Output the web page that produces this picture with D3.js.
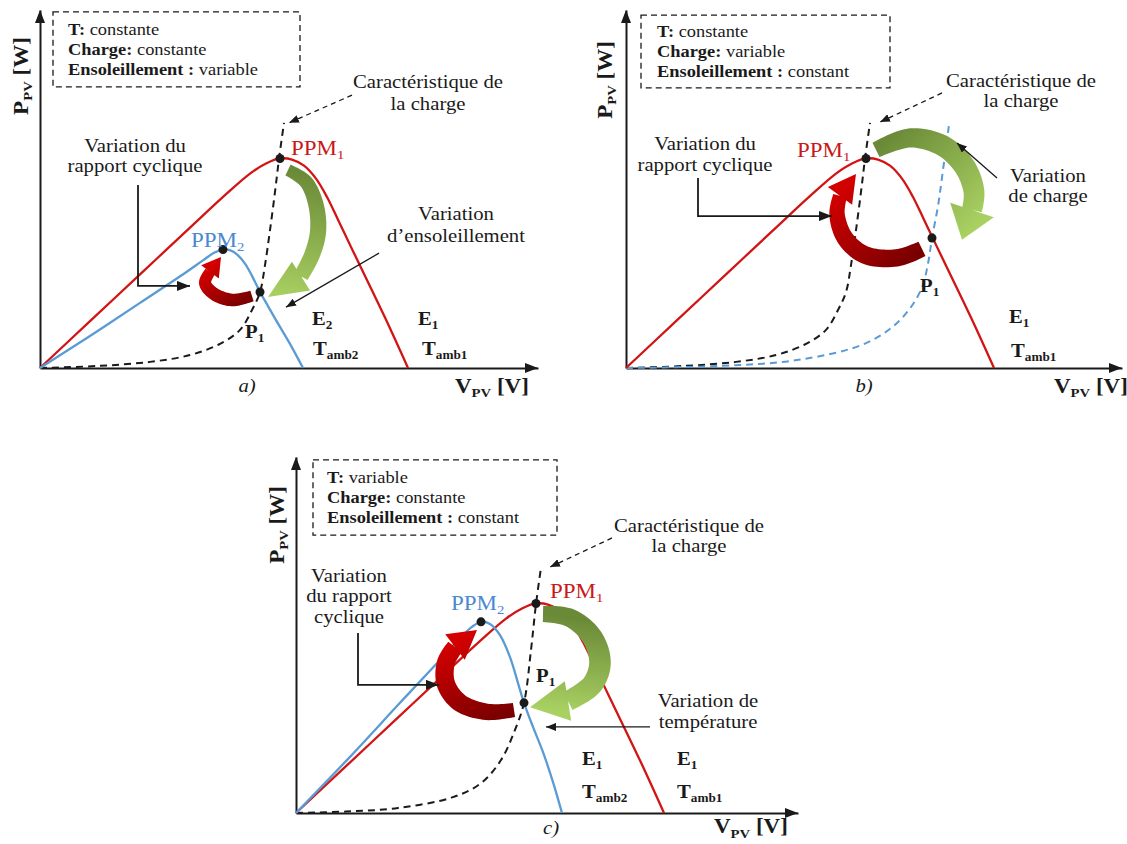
<!DOCTYPE html>
<html>
<head>
<meta charset="utf-8">
<script src="https://cdn.jsdelivr.net/npm/d3@7"></script>
<style>
  body { margin: 0; background: #fff; }
  svg { display: block; }
  svg text { font-family: "Liberation Serif", "Times New Roman", "DejaVu Serif", serif; }
</style>
</head>
<body>
<svg id="chart" width="1127" height="844"></svg>
<script>
// P-V characteristics, values as [V, P]
const pvCurveE1T1 = [[0,0],[5,13],[10,26],[15,39],[18.5,48],[21,54],[22.6,56.8],[24,58.2],[25.2,57.9],[26.4,56.2],[27.6,52.6],[28.7,47.5],[29.8,41.2],[31,34.2],[32.2,27.3],[34.5,14],[36.8,0]];
const pvCurveE2 = [[0,0],[5,8.9],[10,18.1],[14.5,26.4],[16.3,29.9],[17.4,32],[18.3,32.9],[19.1,32.6],[19.8,31.3],[20.5,29],[21.2,25.6],[22,21.1],[22.8,17.2],[23.6,13.3],[25,6.7],[26.3,0]];
const pvCurveT2 = [[0,0],[5.4,15.6],[10.4,30.6],[14.4,42.5],[16.4,48.6],[17.6,51.7],[18.5,53.1],[19.4,52.5],[20.4,49.4],[21.4,43.3],[22.2,36.1],[22.8,30.6],[23.7,23.9],[24.7,16.9],[25.7,8.6],[26.6,0]];

// load characteristics
const loadCurve = [[0,0],[6,0.6],[11,1.7],[15,3.6],[18,6.7],[20,10.6],[21.2,16.1],[22,21.1],[22.5,28.6],[23,38.3],[23.5,48.9],[23.9,58.1],[24.4,68.1]];
const loadCurveChanged = [[0,0],[9.4,0.6],[17.1,2.2],[24,6.9],[27.4,13.3],[29.5,21.7],[30.2,29],[30.6,36.1],[31.2,45],[31.7,55],[32.3,67.5]];
const loadCurveC = [[0,0],[5,0.4],[10.2,1.4],[15.7,4.4],[18.5,8.3],[20.5,14.7],[21.9,23.1],[22.8,30.6],[23.5,45.3],[24,58.1],[24.5,68.1]];

// operating points
const pointsA = [[24, 58.2], [18.3, 32.9], [22, 21.1]];
const pointsB = [[24, 58.2], [30.6, 36.1]];
const pointsC = [[24, 58.2], [18.5, 53.1], [22.8, 30.6]];

// curved arrows (centre line, last point = tip)
const greenArrowA = [[24.8,55],[26.6,51.7],[27.6,45.3],[27.8,37.8],[27.2,31.4],[26.1,25.5],[22.8,19.7]];
const redArrowA = [[21.2,20],[19.2,18.9],[17.4,20.6],[16.5,23.6],[17,26.7],[18.1,30.8]];
const greenArrowB = [[25,60.6],[28.4,63.9],[31.7,61.7],[33.9,55.8],[34.8,48.9],[34.6,43.9],[33.6,35.6]];
const redArrowB = [[29.6,33.1],[27.1,30.6],[23.9,31.4],[21.9,36.1],[21.1,42.8],[21.4,47.8],[23,53.9]];
const greenArrowC = [[24.7,55.3],[27.4,54.2],[29.6,48.9],[30.4,41.7],[29.6,35.6],[27.2,31.1],[23.4,29.4]];
const redArrowC = [[21.8,28.6],[19.1,28.1],[16.4,30.6],[15,35.8],[15,41.9],[15.9,46.1],[18.1,50.8]];

// condition boxes
const conditionsA = [["T:", " constante"], ["Charge:", " constante"], ["Ensoleillement :", " variable"]];
const conditionsB = [["T:", " constante"], ["Charge:", " variable"], ["Ensoleillement :", " constant"]];
const conditionsC = [["T:", " variable"], ["Charge:", " constante"], ["Ensoleillement :", " constant"]];

const panels = [
  { key: "a", origin: [40, 368], xLen: 498, yLen: 358 },
  { key: "b", origin: [626, 368], xLen: 496, yLen: 358 },
  { key: "c", origin: [296, 813], xLen: 502, yLen: 356 }
];

const SX = 1.15;
const RED = "#d21414";
const BLUE = "#5b9bd5";
const INK = "#1a1a1a";

const svg = d3.select("#chart");
const defs = svg.append("defs");

function marker(id, len, half) {
  defs.append("marker")
    .attr("id", id)
    .attr("markerUnits", "userSpaceOnUse")
    .attr("markerWidth", len)
    .attr("markerHeight", half * 2)
    .attr("refX", len)
    .attr("refY", half)
    .attr("orient", "auto")
    .append("path")
    .attr("d", `M0,0L${len},${half}L0,${half * 2}Z`)
    .attr("fill", INK);
}
marker("headSmall", 10, 4);
marker("headBig", 13, 5);

defs.append("filter").attr("id", "soft")
  .append("feGaussianBlur").attr("stdDeviation", 0.6);

function txt(g, x, y, segs, o = {}) {
  const size = o.size || 18;
  const t = g.append("text")
    .attr("transform", `translate(${x},${y})${o.rotate ? ` rotate(${o.rotate})` : ""} scale(${SX},1)`)
    .attr("font-size", size)
    .attr("font-weight", o.bold ? 700 : 400)
    .attr("font-style", o.italic ? "italic" : null)
    .attr("fill", o.color || INK)
    .attr("text-anchor", o.anchor || "start");
  let shift = 0;
  segs.forEach((s) => {
    const [str, kind = ""] = typeof s === "string" ? [s] : s;
    const isSub = kind.includes("s");
    const ts = t.append("tspan").text(str);
    const target = isSub ? size * 0.22 : 0;
    if (target - shift) ts.attr("dy", target - shift);
    shift = target;
    if (isSub) ts.attr("font-size", size * 0.64);
    if (kind.includes("b")) ts.attr("font-weight", 700);
    if (kind.includes("r")) ts.attr("font-weight", 400);
  });
  return t;
}

function setupPanel(p) {
  const g = svg.append("g").attr("transform", `translate(${p.origin[0]},${p.origin[1]})`);
  const x = d3.scaleLinear().domain([0, p.xLen / 10]).range([0, p.xLen]);
  const y = d3.scaleLinear().domain([0, p.yLen / 3.6]).range([0, -p.yLen]);

  g.append("g")
    .call(d3.axisBottom(x).tickValues([]).tickSizeOuter(0))
    .call((a) => a.select(".domain").attr("stroke", INK).attr("stroke-width", 2));
  g.append("g")
    .call(d3.axisLeft(y).tickValues([]).tickSizeOuter(0))
    .call((a) => a.select(".domain").attr("stroke", INK).attr("stroke-width", 2));

  const xe = x.range()[1], ye = y.range()[1];
  g.append("path").attr("d", `M${xe},0l-13,-5v10Z`).attr("fill", INK);
  g.append("path").attr("d", `M0,${ye}l-5,13h10Z`).attr("fill", INK);
  return { g, x, y, key: p.key };
}

function frame(ctx, o) {
  const { g, x, y } = ctx;
  g.append("rect")
    .attr("x", x(o.box[0])).attr("y", y(o.box[3]))
    .attr("width", x(o.box[1]) - x(o.box[0]))
    .attr("height", y(o.box[2]) - y(o.box[3]))
    .attr("fill", "none").attr("stroke", INK)
    .attr("stroke-width", 1.3).attr("stroke-dasharray", "6,4");
  o.cond.forEach((c, i) => {
    txt(g, x(o.condAt[0]), y(o.condAt[1] - i * 5.6), [[c[0], "b"], [c[1], "r"]], { size: 16 });
  });
  txt(g, x(o.yLabel[0]), y(o.yLabel[1]), [["P", "b"], ["PV", "bs"], [" [W]", "b"]], { rotate: -90, anchor: "middle", size: 20 });
  txt(g, x(o.xLabel[0]), y(o.xLabel[1]), [["V", "b"], ["PV", "bs"], [" [V]", "b"]], { size: 20 });
  txt(g, x(o.letter[0]), y(o.letter[1]), [ctx.key + ")"], { italic: true, anchor: "middle", size: 18 });
}

const lineGen = (ctx) => d3.line().x((d) => ctx.x(d[0])).y((d) => ctx.y(d[1])).curve(d3.curveCatmullRom.alpha(0.5));

function curve(ctx, data, color, dash) {
  ctx.g.append("path")
    .datum(data)
    .attr("d", lineGen(ctx))
    .attr("fill", "none")
    .attr("stroke", color)
    .attr("stroke-width", dash ? 2 : 2.3)
    .attr("stroke-dasharray", dash || null);
}

function dots(ctx, pts) {
  ctx.g.selectAll(null).data(pts).enter().append("circle")
    .attr("cx", (d) => ctx.x(d[0])).attr("cy", (d) => ctx.y(d[1]))
    .attr("r", 4.5).attr("fill", INK);
}

function thinArrow(ctx, pts, o = {}) {
  ctx.g.append("path")
    .attr("d", d3.line()(pts.map((d) => [ctx.x(d[0]), ctx.y(d[1])])))
    .attr("fill", "none")
    .attr("stroke", INK)
    .attr("stroke-width", o.width || 1.3)
    .attr("stroke-dasharray", o.dash || null)
    .attr("marker-end", `url(#${o.head || "headSmall"})`);
}

let gradId = 0;
function fatArrow(ctx, data, w0, w1, headW, c0, c1) {
  const pts = data.map((d) => [ctx.x(d[0]), ctx.y(d[1])]);
  const body = pts.slice(0, -1);
  const tip = pts[pts.length - 1];
  const tmp = ctx.g.append("path")
    .attr("d", d3.line().curve(d3.curveCatmullRom.alpha(0.5))(body))
    .attr("fill", "none");
  const node = tmp.node();
  const L = node.getTotalLength();
  const n = 48, left = [], right = [];
  for (let i = 0; i <= n; i++) {
    const s = (L * i) / n;
    const p = node.getPointAtLength(s);
    const q = node.getPointAtLength(Math.min(L, s + 0.8));
    const r = node.getPointAtLength(Math.max(0, s - 0.8));
    let dx = q.x - r.x, dy = q.y - r.y;
    const len = Math.hypot(dx, dy) || 1;
    dx /= len; dy /= len;
    // slightly fuller in the middle of the sweep
    const w = (w0 + ((w1 - w0) * i) / n) / 2 * (1 + 0.18 * Math.sin(Math.PI * i / n));
    left.push([p.x - dy * w, p.y + dx * w]);
    right.push([p.x + dy * w, p.y - dx * w]);
  }
  tmp.remove();

  const end = body[body.length - 1];
  let hx = tip[0] - end[0], hy = tip[1] - end[1];
  const hl = Math.hypot(hx, hy);
  hx /= hl; hy /= hl;
  const h1 = [end[0] - hy * headW / 2, end[1] + hx * headW / 2];
  const h2 = [end[0] + hy * headW / 2, end[1] - hx * headW / 2];

  const id = `grad${gradId++}`;
  const grad = defs.append("linearGradient").attr("id", id)
    .attr("gradientUnits", "userSpaceOnUse")
    .attr("x1", pts[0][0]).attr("y1", pts[0][1])
    .attr("x2", tip[0]).attr("y2", tip[1]);
  grad.append("stop").attr("offset", "0%").attr("stop-color", c0);
  grad.append("stop").attr("offset", "100%").attr("stop-color", c1);

  const poly = left.concat(right.reverse());
  const d = "M" + poly.map((p) => p.join(",")).join("L") + "Z" +
    `M${h1.join(",")}L${tip.join(",")}L${h2.join(",")}Z`;
  ctx.g.append("path")
    .attr("d", d)
    .attr("fill", `url(#${id})`)
    .attr("filter", "url(#soft)");
}

const GREEN0 = "#6b8a38", GREEN1 = "#a9d162";
const RED0 = "#7a0000", RED1 = "#d40000";

// ---------- panel a ----------
const A = setupPanel(panels[0]);
frame(A, { box: [1.3, 26, 78.1, 98.9], cond: conditionsA, condAt: [2.8, 92.5], yLabel: [-1.2, 81.1], xLabel: [41.5, -6.9], letter: [20.7, -6.7] });
curve(A, loadCurve, INK, "7,5");
curve(A, pvCurveE1T1, RED);
curve(A, pvCurveE2, BLUE);
fatArrow(A, greenArrowA, 12, 15, 34, GREEN0, GREEN1);
fatArrow(A, redArrowA, 11, 11, 22, RED0, RED1);
dots(A, pointsA);
txt(A.g, A.x(25.1), A.y(59.2), ["PPM", ["1", "s"]], { size: 20, color: "#c81818" });
txt(A.g, A.x(15.1), A.y(33.6), ["PPM", ["2", "s"]], { size: 20, color: "#4a88d2" });
txt(A.g, A.x(20.5), A.y(8.3), ["P", ["1", "s"]], { size: 18, bold: true });
txt(A.g, A.x(27.2), A.y(11.9), ["E", ["2", "s"]], { size: 18, bold: true });
txt(A.g, A.x(27.3), A.y(3.6), ["T", ["amb2", "s"]], { size: 18, bold: true });
txt(A.g, A.x(37.8), A.y(11.9), ["E", ["1", "s"]], { size: 18, bold: true });
txt(A.g, A.x(38.2), A.y(3.6), ["T", ["amb1", "s"]], { size: 18, bold: true });
txt(A.g, A.x(38.8), A.y(77.8), ["Caractéristique de"], { anchor: "middle" });
txt(A.g, A.x(38.8), A.y(71.7), ["la charge"], { anchor: "middle" });
thinArrow(A, [[31.2, 75.8], [24.9, 68.1]], { dash: "5,4" });
txt(A.g, A.x(9.5), A.y(60), ["Variation du"], { anchor: "middle" });
txt(A.g, A.x(9.5), A.y(54.4), ["rapport cyclique"], { anchor: "middle" });
thinArrow(A, [[9.8, 50.8], [9.8, 22.8], [15, 22.8]], { width: 1.8, head: "headBig" });
txt(A.g, A.x(41.6), A.y(41.1), ["Variation"], { anchor: "middle" });
txt(A.g, A.x(41.6), A.y(35), ["d’ensoleillement"], { anchor: "middle" });
thinArrow(A, [[33.9, 31.9], [24.6, 16.9]]);

// ---------- panel b ----------
const B = setupPanel(panels[1]);
frame(B, { box: [1.5, 26.4, 77.8, 98], cond: conditionsB, condAt: [3.1, 91.9], yLabel: [-1.4, 80], xLabel: [42.8, -6.9], letter: [23.8, -6.7] });
curve(B, loadCurve, INK, "7,5");
curve(B, loadCurveChanged, BLUE, "7,5");
curve(B, pvCurveE1T1, RED);
fatArrow(B, greenArrowB, 16, 20, 46, GREEN0, GREEN1);
fatArrow(B, redArrowB, 16, 14, 30, RED0, RED1);
dots(B, pointsB);
txt(B.g, B.x(17.1), B.y(58.6), ["PPM", ["1", "s"]], { size: 20, color: "#c81818" });
txt(B.g, B.x(29.4), B.y(21.1), ["P", ["1", "s"]], { size: 18, bold: true });
txt(B.g, B.x(38.3), B.y(12.5), ["E", ["1", "s"]], { size: 18, bold: true });
txt(B.g, B.x(38.5), B.y(3.1), ["T", ["amb1", "s"]], { size: 18, bold: true });
txt(B.g, B.x(39.5), B.y(78.1), ["Caractéristique de"], { anchor: "middle" });
txt(B.g, B.x(39.5), B.y(72.5), ["la charge"], { anchor: "middle" });
thinArrow(B, [[31.6, 76.4], [25.4, 68.3]], { dash: "5,4" });
txt(B.g, B.x(7.9), B.y(60.6), ["Variation du"], { anchor: "middle" });
txt(B.g, B.x(7.9), B.y(54.7), ["rapport cyclique"], { anchor: "middle" });
thinArrow(B, [[7.2, 52.8], [7.2, 42.2], [20.6, 42.2]], { width: 1.8, head: "headBig" });
txt(B.g, B.x(42.2), B.y(51.7), ["Variation"], { anchor: "middle" });
txt(B.g, B.x(42.2), B.y(46.1), ["de charge"], { anchor: "middle" });
thinArrow(B, [[37.1, 52.8], [33.1, 62.5]]);

// ---------- panel c ----------
const C = setupPanel(panels[2]);
frame(C, { box: [1.7, 26.1, 77.2, 98.1], cond: conditionsC, condAt: [3.1, 91.7], yLabel: [-1.2, 80], xLabel: [41.8, -5.6], letter: [25.5, -5.8] });
curve(C, loadCurveC, INK, "7,5");
curve(C, pvCurveE1T1, RED);
curve(C, pvCurveT2, BLUE);
fatArrow(C, greenArrowC, 16, 20, 40, GREEN0, GREEN1);
fatArrow(C, redArrowC, 14, 17, 32, RED0, RED1);
dots(C, pointsC);
txt(C.g, C.x(25.4), C.y(59.7), ["PPM", ["1", "s"]], { size: 20, color: "#c81818" });
txt(C.g, C.x(15.5), C.y(56.4), ["PPM", ["2", "s"]], { size: 20, color: "#4a88d2" });
txt(C.g, C.x(24), C.y(36.4), ["P", ["1", "s"]], { size: 18, bold: true });
txt(C.g, C.x(28.6), C.y(13.3), ["E", ["1", "s"]], { size: 18, bold: true });
txt(C.g, C.x(28.6), C.y(4.2), ["T", ["amb2", "s"]], { size: 18, bold: true });
txt(C.g, C.x(38.1), C.y(13.3), ["E", ["1", "s"]], { size: 18, bold: true });
txt(C.g, C.x(38.1), C.y(4.2), ["T", ["amb1", "s"]], { size: 18, bold: true });
txt(C.g, C.x(39.3), C.y(78.1), ["Caractéristique de"], { anchor: "middle" });
txt(C.g, C.x(39.3), C.y(72.5), ["la charge"], { anchor: "middle" });
thinArrow(C, [[31.6, 76.4], [25.4, 68.3]], { dash: "5,4" });
txt(C.g, C.x(5.3), C.y(64.2), ["Variation"], { anchor: "middle" });
txt(C.g, C.x(5.3), C.y(58.6), ["du rapport"], { anchor: "middle" });
txt(C.g, C.x(5.3), C.y(52.8), ["cyclique"], { anchor: "middle" });
thinArrow(C, [[6.2, 50], [6.2, 35.6], [14.3, 35.6]], { width: 1.8, head: "headBig" });
txt(C.g, C.x(41.2), C.y(29.4), ["Variation de"], { anchor: "middle" });
txt(C.g, C.x(41.2), C.y(23.6), ["température"], { anchor: "middle" });
thinArrow(C, [[35.4, 23.9], [25, 23.9]]);
</script>
</body>
</html>
